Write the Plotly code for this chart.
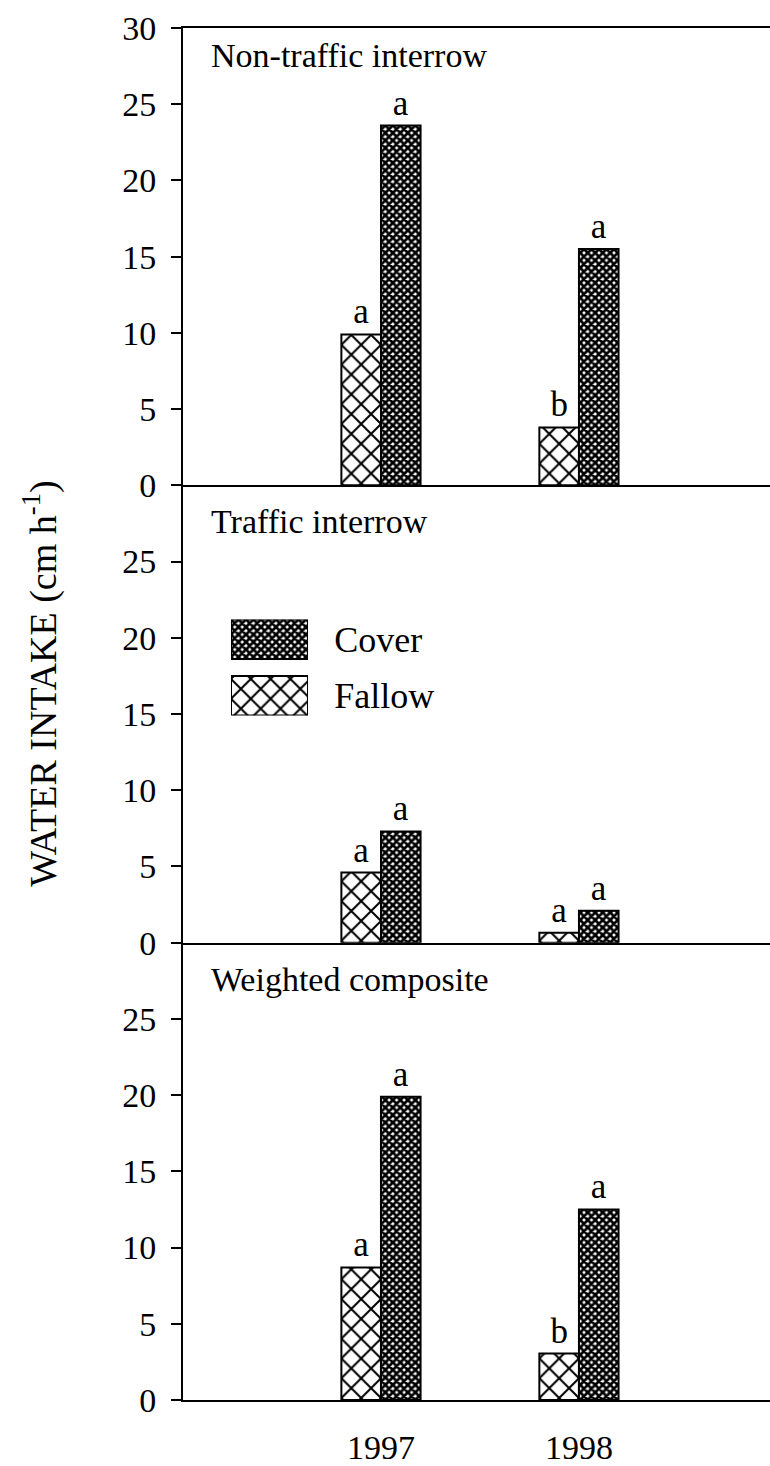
import plotly.graph_objects as go
from plotly.subplots import make_subplots

years = ["1997", "1998"]
panel_titles = ["Non-traffic interrow", "Traffic interrow", "Weighted composite"]

nontraffic_fallow = [9.9, 3.8]
nontraffic_cover = [23.6, 15.5]
traffic_fallow = [4.6, 0.65]
traffic_cover = [7.3, 2.1]
composite_fallow = [8.7, 3.05]
composite_cover = [19.9, 12.5]

nontraffic_fallow_sig = ["a", "b"]
nontraffic_cover_sig = ["a", "a"]
traffic_fallow_sig = ["a", "a"]
traffic_cover_sig = ["a", "a"]
composite_fallow_sig = ["a", "b"]
composite_cover_sig = ["a", "a"]

legend_names = ["Fallow", "Cover"]
legend_key = [1, 1]

FONT = "Liberation Serif, Times New Roman, serif"
W, H = 770, 1466
ML, MR, MT, MB = 183, 0, 28, 51
PW = W - ML - MR
PH = H - MT - MB

def px_x(p):
    return (p - ML) / PW

def px_y(p):
    return (H - MB - p) / PH

fallow_pattern = dict(shape="x", size=14, solidity=0.27, fgcolor="black", bgcolor="white", fillmode="replace")
cover_pattern = dict(shape="x", size=5.3, solidity=0.76, fgcolor="black", bgcolor="white", fillmode="replace")

fig = make_subplots(rows=3, cols=1, shared_xaxes=True, vertical_spacing=0)

panels = [
    (nontraffic_fallow, nontraffic_cover, nontraffic_fallow_sig, nontraffic_cover_sig),
    (traffic_fallow, traffic_cover, traffic_fallow_sig, traffic_cover_sig),
    (composite_fallow, composite_cover, composite_fallow_sig, composite_cover_sig),
]

for i, (fv, cv, fs, cs) in enumerate(panels, start=1):
    fig.add_trace(go.Bar(x=years, y=fv, text=fs, textposition="outside", name="Fallow",
                         offset=-0.2, width=0.2, cliponaxis=False,
                         marker=dict(color="white", pattern=fallow_pattern,
                                     line=dict(color="black", width=2)),
                         textfont=dict(family=FONT, size=35, color="black"),
                         showlegend=False), row=i, col=1)
    fig.add_trace(go.Bar(x=years, y=cv, text=cs, textposition="outside", name="Cover",
                         offset=0.0, width=0.2, cliponaxis=False,
                         marker=dict(color="white", pattern=cover_pattern,
                                     line=dict(color="black", width=2)),
                         textfont=dict(family=FONT, size=35, color="black"),
                         showlegend=False), row=i, col=1)

# legend key drawn as a small inset axis
fig.add_trace(go.Bar(y=[legend_names[0]], x=[legend_key[0]], orientation="h", width=0.7,
                     marker=dict(color="white", pattern=fallow_pattern,
                                 line=dict(color="black", width=2)),
                     xaxis="x4", yaxis="y4", showlegend=False, hoverinfo="skip"))
fig.add_trace(go.Bar(y=[legend_names[1]], x=[legend_key[1]], orientation="h", width=0.7,
                     marker=dict(color="white", pattern=cover_pattern,
                                 line=dict(color="black", width=2)),
                     xaxis="x4", yaxis="y4", showlegend=False, hoverinfo="skip"))

fig.update_layout(
    xaxis4=dict(domain=[px_x(231), px_x(308)], anchor="y4", range=[0, 1],
                showline=False, showgrid=False, zeroline=False, showticklabels=False, ticks="",
                fixedrange=True),
    yaxis4=dict(domain=[px_y(723), px_y(626)], anchor="x4", type="category",
                categoryorder="array", categoryarray=legend_names,
                range=[-0.35, 1.35], side="right", showline=False, showgrid=False, zeroline=False,
                ticks="outside", ticklen=18, tickcolor="rgba(0,0,0,0)",
                tickfont=dict(family=FONT, size=36, color="black")),
)

for i in range(1, 4):
    fig.update_yaxes(row=i, col=1, range=[0, 30],
                     tickvals=[0, 5, 10, 15, 20, 25, 30] if i == 1 else [0, 5, 10, 15, 20, 25],
                     showline=True, linecolor="black", linewidth=2, showgrid=False, zeroline=False,
                     ticks="outside", ticklen=10, tickwidth=2, tickcolor="black",
                     ticklabelstandoff=8,
                     tickfont=dict(family=FONT, size=34, color="black"))
    fig.update_xaxes(row=i, col=1, range=[-1, 1.965], showline=True, linecolor="black", linewidth=2,
                     showgrid=False, zeroline=False, mirror=(i == 1),
                     showticklabels=(i == 3), ticks="outside" if i == 3 else "",
                     ticklen=16, tickcolor="rgba(0,0,0,0)",
                     tickfont=dict(family=FONT, size=34, color="black"))

title_y = [28.2, 27.6, 27.6]
for i, t in enumerate(panel_titles, start=1):
    yr = "y" if i == 1 else f"y{i}"
    fig.add_annotation(text=t, xref="paper", yref=yr, x=px_x(209), y=title_y[i - 1],
                       xanchor="left", yanchor="middle", showarrow=False,
                       font=dict(family=FONT, size=34, color="black"))

fig.add_annotation(text="WATER INTAKE (cm h<sup>-1</sup>)", xref="paper", yref="paper",
                   x=px_x(41), y=px_y(691), textangle=-90,
                   xanchor="center", yanchor="middle", showarrow=False,
                   font=dict(family=FONT, size=38, color="black"))

fig.update_layout(width=W, height=H, margin=dict(l=ML, r=MR, t=MT, b=MB),
                  paper_bgcolor="white", plot_bgcolor="white", barmode="overlay",
                  showlegend=False, font=dict(family=FONT, color="black"))

fig.write_html("out.html")
